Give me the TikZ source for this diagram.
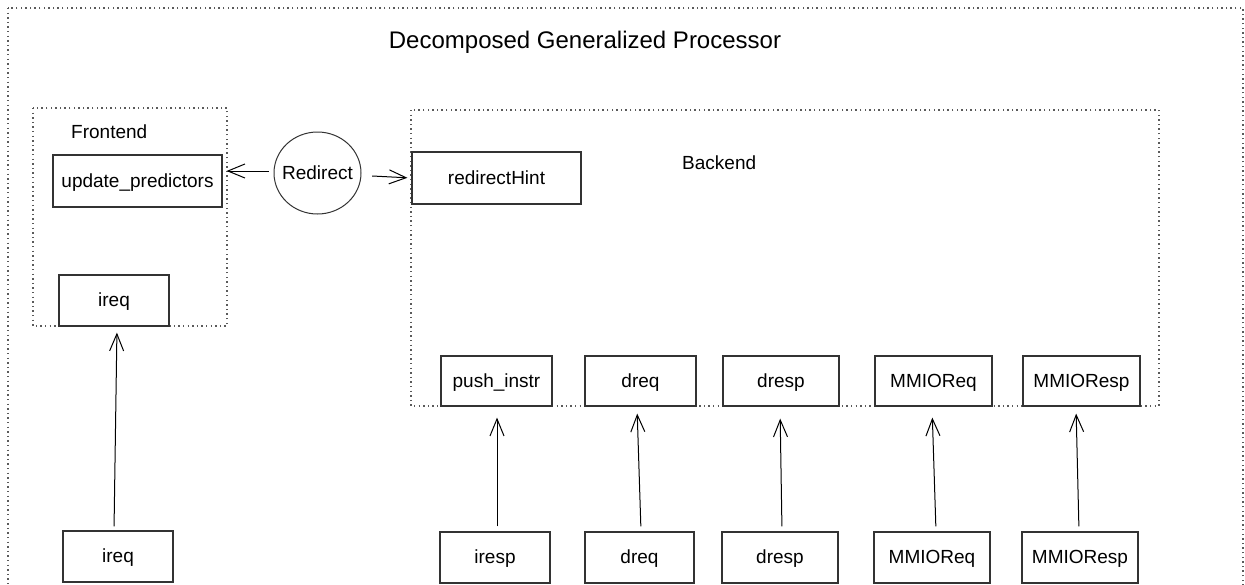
\documentclass[tikz,border=0pt]{standalone}
\usepackage{fontspec}
\setmainfont{Liberation Sans}
\usetikzlibrary{arrows.meta}

\definecolor{edge}{HTML}{333333}
\definecolor{dots}{HTML}{5A5A5A}

\tikzset{
  block/.style={draw=edge, line width=1.2pt, inner sep=0pt,
    text height=14pt, text depth=2pt,
    font=\fontsize{19}{22}\selectfont, minimum height=51pt},
  group/.style={draw=dots, line width=1.3pt, dash pattern=on 1.4pt off 3.2pt},
  caption/.style={inner sep=0pt, anchor=base west, font=\fontsize{19}{22}\selectfont},
  flow/.style={draw=black, line width=1pt,
    -{Straight Barb[length=17pt,width=14pt,line width=1pt]}},
}

\begin{document}
\begin{tikzpicture}[x=1pt, y=-1pt]
  \clip (0,0) rectangle (1245,584);
  \useasboundingbox (0,0) rectangle (1245,584);

  % containers
  \draw[group] (8,8) rectangle (1243,620);
  \draw[group] (33,108) rectangle (227,326);
  \draw[group] (411,110) rectangle (1159,406);

  % titles
  \node[inner sep=0pt, anchor=base, font=\fontsize{24}{28}\selectfont]
    (title) at (585,48) {Decomposed Generalized Processor};
  \node[caption] (fronttitle) at (71,138) {Frontend};
  \node[caption] (backtitle) at (682,169) {Backend};

  % frontend
  \node[block, minimum width=169pt, minimum height=52pt] (upd) at (137.5,181) {update\_predictors};
  \node[block, minimum width=110pt] (ireqF) at (114,300.5) {ireq};

  % redirect: an ellipse drawn round a borderless node
  \node[inner sep=0pt, minimum width=87pt, minimum height=82pt,
        font=\fontsize{19}{22}\selectfont, text height=14pt, text depth=2pt]
    (redir) at (317.5,173) {Redirect};
  \draw[edge, line width=1pt] (redir.center) ellipse [x radius=43.5, y radius=41];

  % backend
  \node[block, minimum width=169pt, minimum height=52pt] (hint) at (496.5,178) {redirectHint};
  \node[block, minimum width=111pt, minimum height=50pt] (push)  at (496.5,381) {push\_instr};
  \node[block, minimum width=111pt, minimum height=50pt] (dreqT) at (640.5,381) {dreq};
  \node[block, minimum width=116pt, minimum height=50pt] (drespT) at (781,381) {dresp};
  \node[block, minimum width=117pt, minimum height=50pt] (mreqT) at (933.5,381) {MMIOReq};
  \node[block, minimum width=117pt, minimum height=50pt] (mrespT) at (1081.5,381) {MMIOResp};

  % external ports
  \node[block, minimum width=110pt] (ireqB)  at (118,556.5) {ireq};
  \node[block, minimum width=110pt] (iresp)  at (495,557.5) {iresp};
  \node[block, minimum width=109pt] (dreqB)  at (639.5,557.5) {dreq};
  \node[block, minimum width=116pt] (drespB) at (780,557.5) {dresp};
  \node[block, minimum width=116pt] (mreqB)  at (932,557.5) {MMIOReq};
  \node[block, minimum width=116pt] (mrespB) at (1080,557.5) {MMIOResp};

  % redirect connections
  \draw[flow, shorten >=9pt] ([shift={(-5,-2)}]redir.west) -- ([shift={(-5,-2)}]redir.west -| upd.east);
  \draw[flow, shorten >=4pt] ([shift={(11,3)}]redir.east) -- (hint.west);

  % inputs
  \draw[flow, shorten <=4pt, shorten >=6pt]  ([xshift=-4pt]ireqB.north) -- ([xshift=3pt]ireqF.south);
  \draw[flow, shorten <=5pt, shorten >=11pt] ([xshift=2pt]iresp.north)  -- ([xshift=0.5pt]push.south);
  \draw[flow, shorten <=5pt, shorten >=7pt]  ([xshift=1.5pt]dreqB.north) -- ([xshift=-3.5pt]dreqT.south);
  \draw[flow, shorten <=5pt, shorten >=12pt] ([xshift=2pt]drespB.north) -- ([xshift=-1pt]drespT.south);
  \draw[flow, shorten <=5pt, shorten >=11pt] ([xshift=4pt]mreqB.north)  -- ([xshift=-1.5pt]mreqT.south);
  \draw[flow, shorten <=5pt, shorten >=7pt]  ([xshift=-1pt]mrespB.north) -- ([xshift=-5.5pt]mrespT.south);
\end{tikzpicture}
\end{document}
